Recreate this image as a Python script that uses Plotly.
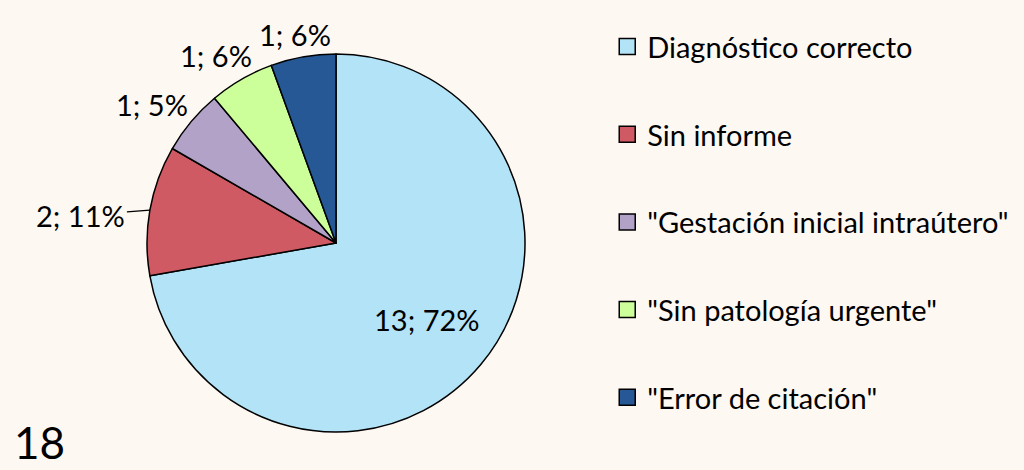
import math
import plotly.graph_objects as go

categorias = ['Diagnóstico correcto', 'Sin informe', '"Gestación inicial intraútero"',
              '"Sin patología urgente"', '"Error de citación"']
casos = [13, 2, 1, 1, 1]
porcentajes = ['72%', '11%', '5%', '6%', '6%']
total = '18'

colores = ['#B3E3F6', '#D05A63', '#B3A2C8', '#CCFF99', '#255895']
fuente = 'Lato'
W, H = 1024, 470

# pie: centro y radio en pixeles
cx, cy, R = 336, 243, 189
dominio_x = [(cx - R) / W, (cx + R) / W]
dominio_y = [1 - (cy + R) / H, 1 - (cy - R) / H]

etiquetas = [f'{n}; {p}' for n, p in zip(casos, porcentajes)]

fig = go.Figure()
fig.add_trace(go.Pie(
    labels=categorias, values=casos, textinfo='none',
    sort=False, direction='clockwise', rotation=0,
    marker=dict(colors=colores, line=dict(color='black', width=1.5)),
    domain=dict(x=dominio_x, y=dominio_y),
    showlegend=False, hoverinfo='label+value+percent',
))

# etiquetas de datos (como en excel)
suma = sum(casos)
acum = 0
separacion = [0, 28, 16, 16, 12]
for i, (v, txt) in enumerate(zip(casos, etiquetas)):
    theta = math.radians((acum + v / 2) / suma * 360)
    acum += v
    ux, uy = math.sin(theta), -math.cos(theta)
    if i == 0:
        px, py = cx + 0.63 * R * ux, cy + 0.63 * R * uy
        fig.add_annotation(x=px / W, y=1 - py / H, xref='paper', yref='paper',
                           xanchor='center', yanchor='middle',
                           text=txt, showarrow=False,
                           font=dict(family=fuente, size=29, color='black'))
        continue
    bx, by = cx + R * ux, cy + R * uy
    hw, hh = len(txt) * 7, 11
    g = separacion[i]
    ax = g * ux + hw * ux
    ay = g * uy + hh * uy
    if g > 20:
        ay += 12  # texto un poco por debajo de la linea guia
    fig.add_annotation(x=bx / W, y=1 - by / H, xref='paper', yref='paper',
                       text=txt, showarrow=True, ax=ax, ay=ay,
                       arrowhead=0, arrowwidth=1.2, standoff=0,
                       arrowcolor='black' if g > 20 else 'rgba(0,0,0,0)',
                       font=dict(family=fuente, size=29, color='black'))

# leyenda con trazas vacias para poder separar las entradas
for cat, col in zip(categorias, colores):
    fig.add_trace(go.Scatter(
        x=[None], y=[None], mode='markers', name=cat, legendgroup=cat,
        marker=dict(symbol='square', size=20, color=col, line=dict(color='black', width=1.5)),
    ))

fig.add_annotation(text=total, x=0.012, y=0.0, xref='paper', yref='paper',
                   xanchor='left', yanchor='bottom', showarrow=False,
                   font=dict(family=fuente, size=44, color='black'))

fig.update_layout(
    width=W, height=H,
    margin=dict(l=0, r=0, t=0, b=0),
    paper_bgcolor='#FEF8F3', plot_bgcolor='#FEF8F3',
    xaxis=dict(visible=False), yaxis=dict(visible=False),
    legend=dict(x=0.593, y=0.955, xanchor='left', yanchor='top',
                tracegroupgap=47, itemwidth=30, bgcolor='rgba(0,0,0,0)',
                font=dict(family=fuente, size=29, color='black')),
)

fig.write_html('out.html', config={'displayModeBar': False},
               post_script="document.body.style.margin='0';")
